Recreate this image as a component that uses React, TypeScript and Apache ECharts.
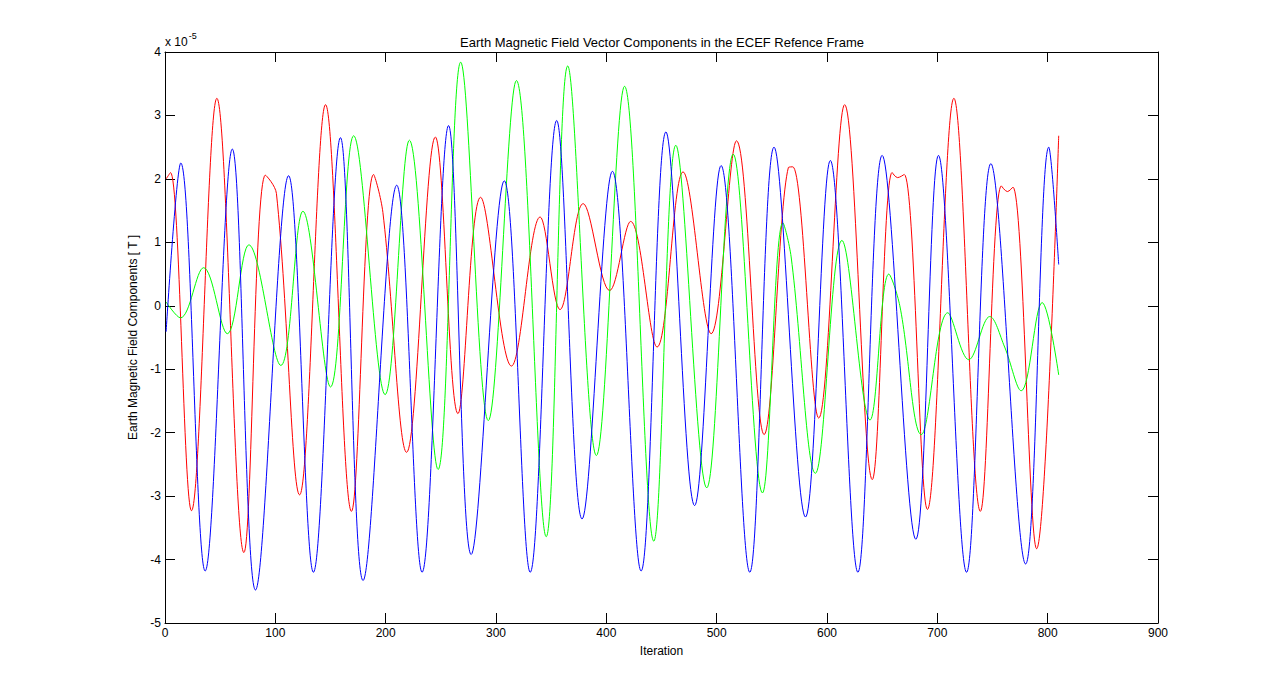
import React, { useEffect, useRef } from "react";
import * as echarts from "echarts";

const xTicks = [0, 100, 200, 300, 400, 500, 600, 700, 800, 900];
const yTicks = [-5, -4, -3, -2, -1, 0, 1, 2, 3, 4];

// [iteration, value in units of 1e-5 T] read at extrema / shoulders
const redX: [number, number][] = [
  [1, 2.0], [5, 2.1], [24, -3.23], [47, 3.27], [71.5, -3.89], [91, 2.06], [101, 1.77],
  [122, -2.98], [145.5, 3.17], [169, -3.24], [189, 2.07], [197.5, 1.47], [219, -2.31],
  [245, 2.66], [265.5, -1.7], [286, 1.71], [314, -0.95], [340, 1.4], [358, -0.06],
  [379, 1.61], [403, 0.24], [422, 1.33], [446, -0.65], [469.5, 2.11], [495, -0.44],
  [518, 2.6], [543, -2.03], [565, 2.18], [569, 2.19], [592.5, -1.77], [616, 3.17],
  [641, -2.74], [659, 2.1], [664, 2.02], [670, 2.07], [691, -3.21], [715, 3.27],
  [739, -3.24], [758, 1.89], [763.5, 1.8], [768.5, 1.87], [790, -3.83], [810, 2.68],
];

const blueZ: [number, number][] = [
  [1, -0.41], [14.3, 2.25], [36.4, -4.18], [61, 2.47], [82, -4.48], [112, 2.05],
  [134.5, -4.2], [159, 2.65], [179.5, -4.33], [210, 1.9], [233, -4.2], [257, 2.84],
  [277.5, -3.92], [307.5, 1.97], [331, -4.2], [355, 2.92], [378, -3.36], [405.5, 2.12],
  [431.5, -4.18], [454, 2.74], [480, -3.15], [504, 2.21], [530, -4.2], [552, 2.5],
  [580.5, -3.33], [603, 2.29], [628, -4.2], [650, 2.37], [680.5, -3.68], [701, 2.37],
  [726.5, -4.2], [748.5, 2.24], [780, -4.07], [801, 2.5], [810, 0.65],
];

const greenY: [number, number][] = [
  [1, 0.06], [14, -0.19], [35, 0.6], [56.5, -0.44], [76, 0.96], [105, -0.94],
  [125, 1.49], [150, -1.28], [171, 2.68], [199.5, -1.4], [221.5, 2.61], [247.5, -2.58],
  [268, 3.84], [293, -1.81], [318.5, 3.55], [345.5, -3.64], [365, 3.78], [391, -2.36],
  [416.5, 3.46], [443, -3.71], [463, 2.53], [491, -2.87], [515, 2.39], [541.5, -2.95],
  [560, 1.31], [567.5, 0.77], [589.5, -2.64], [613.5, 1.03], [639, -1.8], [656, 0.5],
  [666, 0.0], [685.5, -2.03], [709.5, -0.11], [728.5, -0.85], [747.5, -0.17],
  [761, -0.65], [776, -1.34], [795, 0.05], [810, -1.09],
];

const FONT = "Liberation Sans, Arial, sans-serif";

export default function App() {
  const ref = useRef<HTMLDivElement>(null);
  useEffect(() => {
    if (!ref.current) return;
    const chart = echarts.init(ref.current, undefined, { renderer: "svg" });
    const axisCommon = {
      axisLine: { show: true, onZero: false, lineStyle: { color: "#000", width: 1 } },
      axisTick: { show: true, inside: true, length: 10, lineStyle: { color: "#000" } },
      splitLine: { show: false },
    };
    const xBase = { type: "value", min: 0, max: 900, interval: 100, ...axisCommon };
    const yBase = { type: "value", min: -5, max: 4, interval: 1, ...axisCommon };
    const mkSeries = (data: [number, number][], color: string) => ({
      type: "line",
      data,
      showSymbol: false,
      smooth: 0.36,
      lineStyle: { color, width: 1 },
      itemStyle: { color },
      xAxisIndex: 0,
      yAxisIndex: 0,
    });
    chart.setOption({
      animation: false,
      backgroundColor: "#fff",
      textStyle: { fontFamily: FONT },
      title: {
        text: "Earth Magnetic Field Vector Components in the ECEF Refence Frame",
        left: 657,
        textAlign: "center",
        top: 31,
        textStyle: { fontSize: 13, fontWeight: "normal", color: "#000", fontFamily: FONT },
      },
      grid: { left: 165, right: 122, top: 52, bottom: 77, containLabel: false },
      xAxis: [
        {
          ...xBase,
          position: "bottom",
          name: "Iteration",
          nameLocation: "middle",
          nameGap: 22,
          nameTextStyle: { color: "#000", fontSize: 12, fontFamily: FONT },
          axisLabel: {
            color: "#000", fontSize: 12, margin: 4, fontFamily: FONT,
            formatter: (v: number) => (xTicks.includes(v) ? String(v) : ""),
          },
        },
        { ...xBase, position: "top", axisLabel: { show: false } },
      ],
      yAxis: [
        {
          ...yBase,
          position: "left",
          name: "Earth Magnetic Field Components [ T ]",
          nameLocation: "middle",
          nameGap: 21,
          nameTextStyle: { color: "#000", fontSize: 12, fontFamily: FONT },
          axisLabel: {
            color: "#000", fontSize: 12, margin: 4, fontFamily: FONT,
            formatter: (v: number) => (yTicks.includes(v) ? String(v) : ""),
          },
        },
        { ...yBase, position: "right", axisLabel: { show: false } },
      ],
      graphic: [
        {
          type: "text",
          left: 165,
          top: 31,
          style: {
            text: "{a|x 10}{b|-5}",
            rich: {
              a: { fontSize: 12, fill: "#000", fontFamily: FONT, verticalAlign: "bottom" },
              b: { fontSize: 9, fill: "#000", fontFamily: FONT, verticalAlign: "top", padding: [0, 0, 8, 1] },
            },
          },
        },
      ],
      series: [
        mkSeries(redX, "#ff0000"),
        mkSeries(greenY, "#00ff00"),
        mkSeries(blueZ, "#0000ff"),
      ],
    });
    return () => chart.dispose();
  }, []);
  return (
    <div
      ref={ref}
      style={{ position: "fixed", left: 0, top: 0, width: 1280, height: 700, background: "#fff" }}
    />
  );
}
